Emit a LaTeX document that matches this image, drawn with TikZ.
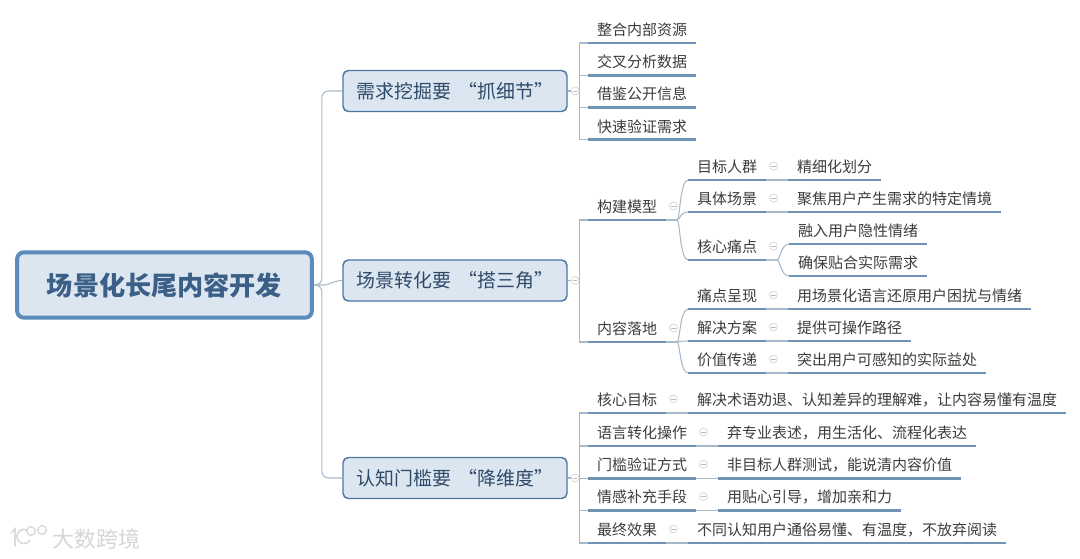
\documentclass[tikz,border=0pt]{standalone}
\usepackage{fontspec}
\setmainfont{Noto Sans CJK SC}
\usetikzlibrary{positioning,calc}
\definecolor{boxfill}{HTML}{DCE6F1}
\definecolor{boxline}{HTML}{5B8BBD}
\definecolor{edgeline}{HTML}{A6BACB}
\definecolor{underline}{HTML}{6E93B5}
\definecolor{titletext}{HTML}{3B5F86}
\definecolor{maintext}{HTML}{2F4A68}
\definecolor{leaftext}{HTML}{3C3C3C}

\begin{document}
\begin{tikzpicture}[
  x=.75pt, y=.75pt,
  root/.style={rounded corners=5pt, draw=boxline, line width=3pt, fill=boxfill, minimum width=221pt,
               minimum height=49pt, text=titletext, font=\fontsize{19.6}{22}\selectfont\bfseries},
  topic/.style={rounded corners=4pt, draw=boxline!85!black, line width=1.1pt, fill=boxfill, minimum width=168pt,
                minimum height=30.75pt, inner sep=0pt, text=maintext, font=\fontsize{14.2}{17}\selectfont},
  leaf/.style={inner xsep=6.75pt, inner ysep=0pt, minimum height=21pt, text height=10.3pt, text depth=.7pt,
               text=leaftext, font=\fontsize{11.25}{13}\selectfont, outer sep=0pt,
               append after command={(\tikzlastnode.south west) edge[uline] (\tikzlastnode.south east)}},
  uline/.style={draw=underline, line width=2pt},
  link/.style={draw=edgeline, line width=.8pt},
  trunk/.style={link, rounded corners=5pt, to path={-- ++(8,0) |- (\tikztotarget)}},
  branch/.style={link, to path={-- ++(12,0) |- (\tikztotarget)}},
  swoop/.style={link, to path={-- ++(11,0) .. controls +(3,0) and ($(\tikztotarget)+(-8,0)$) .. (\tikztotarget)}},
  fold/.style={circle, draw=gray!35, fill=white, line width=.5pt, minimum size=6pt, inner sep=0pt, right=2.3pt of #1,
               path picture={\draw[gray!55, line width=.5pt] (-1.6pt,0) -- (1.6pt,0);}},
  logoline/.style={draw=gray!28, line width=1.3pt},
  logoring/.style={circle, draw=gray!28, line width=1.1pt, minimum size=6.5pt, inner sep=0pt},
  node distance=3pt and 16.5pt,
]
\useasboundingbox (0,0) rectangle (1080,-558);
% root and topics
\node[root] (home) at (164.5,-285) {场景化长尾内容开发};
\node[topic] (need) at (455,-91) {需求挖掘要\hspace{.38em}“抓细节”};
\node[topic] (scene) at (455,-280.5) {场景转化要\hspace{.38em}“搭三角”};
\node[topic] (cogn) at (455,-478) {认知门槛要\hspace{.38em}“降维度”};

% first topic
\node[leaf, anchor=south west] (n1) at (588,-43) {整合内部资源};
\node[leaf, below=3.2pt of n1] (n2) {交叉分析数据};
\node[leaf, below=3.2pt of n2] (n3) {借鉴公开信息};
\node[leaf, below=3.2pt of n3] (n4) {快速验证需求};

% second topic: model
\node[leaf, anchor=south west] (model) at (588,-220) {构建模型};
\node[leaf, anchor=south west] (crowd) at (688,-180) {目标人群};
\node[leaf, below=of crowd] (spot) {具体场景};
\node[leaf, anchor=south west] (pain) at (688,-260) {核心痛点};
\node[leaf, right=of crowd] (crowdr) {精细化划分};
\node[leaf, right=of spot] (spotr) {聚焦用户产生需求的特定情境};
\node[leaf, anchor=south west] (pain1) at (789,-244) {融入用户隐性情绪};
\node[leaf, below=of pain1] (pain2) {确保贴合实际需求};

% second topic: landing
\node[leaf, anchor=south west] (land) at (588,-342) {内容落地};
\node[leaf, anchor=south west] (show) at (688,-309) {痛点呈现};
\node[leaf, below=of show] (plan) {解决方案};
\node[leaf, below=of plan] (worth) {价值传递};
\node[leaf, right=of show] (showr) {用场景化语言还原用户困扰与情绪};
\node[leaf, right=of plan] (planr) {提供可操作路径};
\node[leaf, right=of worth] (worthr) {突出用户可感知的实际益处};

% third topic
\node[leaf, anchor=south west] (c1) at (588,-413) {核心目标};
\node[leaf, anchor=south west] (c2) at (588,-446) {语言转化操作};
\node[leaf, below=3.2pt of c2] (c3) {门槛验证方式};
\node[leaf, below=3.2pt of c3] (c4) {情感补充手段};
\node[leaf, anchor=south west] (c5) at (588,-543) {最终效果};
\node[leaf, right=of c1] (c1r) {解决术语劝退、认知差异的理解难，让内容易懂有温度};
\node[leaf, right=of c2] (c2r) {弃专业表述，用生活化、流程化表达};
\node[leaf, right=of c3] (c3r) {非目标人群测试，能说清内容价值};
\node[leaf, right=of c4] (c4r) {用贴心引导，增加亲和力};
\node[leaf, right=of c5] (c5r) {不同认知用户通俗易懂、有温度，不放弃阅读};

% connectors
\draw[trunk] (home.east) to (need.west);
\draw[swoop] (home.east) to (scene.west);
\draw[trunk] (home.east) to (cogn.west);
\draw[branch] (need.east) to (n1.south west);
\draw[branch] (need.east) to (n2.south west);
\draw[branch] (need.east) to (n3.south west);
\draw[branch] (need.east) to (n4.south west);
\draw[branch] (scene.east) to (model.south west);
\draw[branch] (scene.east) to (land.south west);
\draw[branch] (cogn.east) to (c1.south west);
\draw[branch] (cogn.east) to (c2.south west);
\draw[branch] (cogn.east) to (c3.south west);
\draw[branch] (cogn.east) to (c4.south west);
\draw[branch] (cogn.east) to (c5.south west);
\draw[swoop] (model.south east) to (crowd.south west);
\draw[swoop] (model.south east) to (spot.south west);
\draw[swoop] (model.south east) to (pain.south west);
\draw[swoop] (pain.south east) to (pain1.south west);
\draw[swoop] (pain.south east) to (pain2.south west);
\draw[swoop] (land.south east) to (show.south west);
\draw[swoop] (land.south east) to (plan.south west);
\draw[swoop] (land.south east) to (worth.south west);
\draw[link] (crowd.south east) -- (crowdr.south west);
\draw[link] (spot.south east) -- (spotr.south west);
\draw[link] (show.south east) -- (showr.south west);
\draw[link] (plan.south east) -- (planr.south west);
\draw[link] (worth.south east) -- (worthr.south west);
\draw[link] (c1.south east) -- (c1r.south west);
\draw[link] (c2.south east) -- (c2r.south west);
\draw[link] (c3.south east) -- (c3r.south west);
\draw[link] (c4.south east) -- (c4r.south west);
\draw[link] (c5.south east) -- (c5r.south west);

% fold markers
\node[fold=need] (fneed) {};
\node[fold=scene] (fscene) {};
\node[fold=cogn] (fcogn) {};
\node[fold=model] (fmodel) {};
\node[fold=land] (fland) {};
\node[fold=crowd] (fcrowd) {};
\node[fold=spot] (fspot) {};
\node[fold=pain] (fpain) {};
\node[fold=show] (fshow) {};
\node[fold=plan] (fplan) {};
\node[fold=worth] (fworth) {};
\node[fold=c1] (fc1) {};
\node[fold=c2] (fc2) {};
\node[fold=c3] (fc3) {};
\node[fold=c4] (fc4) {};
\node[fold=c5] (fc5) {};

% watermark
\node[text=gray!32, font=\fontsize{16.5}{18}\selectfont] (brand) at (96,-539) {大数跨境};
\draw[logoline] (11,-533) -- (15,-529) -- (15,-546);
\draw[logoline] (30,-540) arc[start angle=-30, end angle=-300, radius=7];
\node[logoring] (ring1) at (31,-531) {};
\node[logoring] (ring2) at (42,-530) {};
\end{tikzpicture}
\end{document}
